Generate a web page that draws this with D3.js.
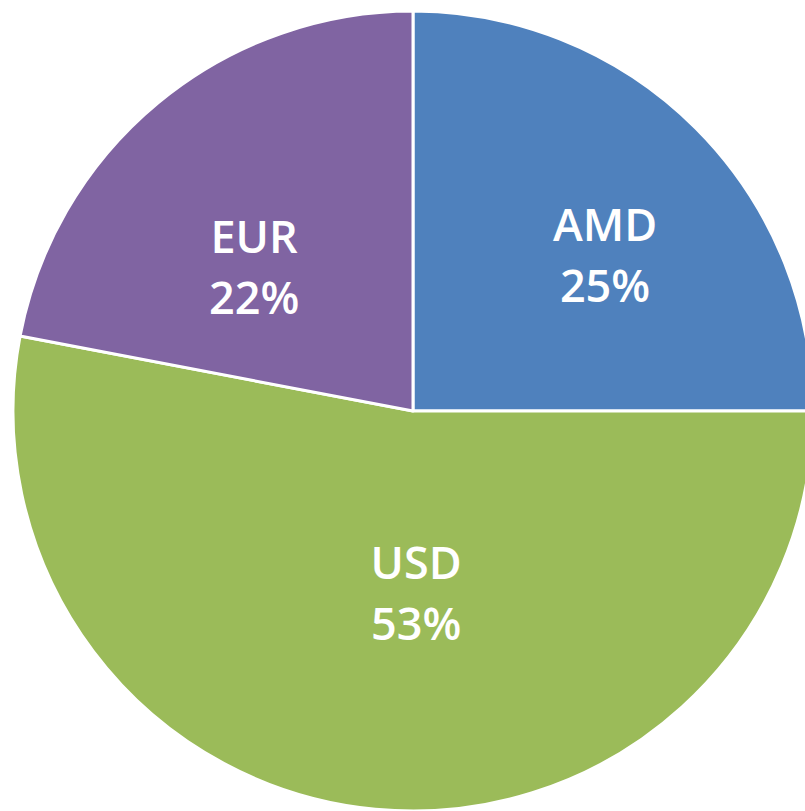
<!DOCTYPE html>
<html>
<head>
<meta charset="utf-8">
<script src="https://cdn.jsdelivr.net/npm/d3@7"></script>
<style>
  html, body { margin: 0; padding: 0; background: #fff; }
  svg { display: block; }
</style>
</head>
<body>
<div id="chart"></div>
<script>
// slice data, in drawing order (clockwise from 12 o'clock)
const currencies = ["AMD", "USD", "EUR"];
const shares = [25, 53, 22];
const sliceColors = ["#4f81bd", "#9bbb59", "#8064a2"];

const width = 805, height = 811;
const cx = 413, cy = 411, radius = 400;

// label nudges (px) from the arc centroid, to follow the original layout
const labelNudge = { AMD: [28, -6], USD: [25, -63], EUR: [-11, 21] };

const svg = d3.select("#chart")
  .append("svg")
  .attr("width", width)
  .attr("height", height);

const g = svg.append("g")
  .attr("transform", `translate(${cx},${cy})`);

const rows = currencies.map((c, i) => ({ name: c, value: shares[i], color: sliceColors[i] }));

const pie = d3.pie()
  .value(d => d.value)
  .sort(null);

const arc = d3.arc()
  .innerRadius(0)
  .outerRadius(radius);

const labelArc = d3.arc()
  .innerRadius(232)
  .outerRadius(232);

const slices = pie(rows);

g.selectAll("path.slice")
  .data(slices)
  .join("path")
  .attr("class", "slice")
  .attr("d", arc)
  .attr("fill", d => d.data.color)
  .attr("stroke", "#fff")
  .attr("stroke-width", 3)
  .attr("stroke-linejoin", "round");

const labels = g.selectAll("text.lbl")
  .data(slices)
  .join("text")
  .attr("class", "lbl")
  .attr("transform", d => {
    const c = labelArc.centroid(d);
    const n = labelNudge[d.data.name];
    return `translate(${c[0] + n[0]},${c[1] + n[1]})`;
  })
  .attr("text-anchor", "middle")
  .attr("fill", "#fff")
  .style("font-family", "'Open Sans', 'Noto Sans', sans-serif")
  .style("font-weight", "600")
  .style("font-size", "45px");

labels.append("tspan")
  .attr("x", 0)
  .attr("y", 0)
  .text(d => d.data.name);

labels.append("tspan")
  .attr("x", 0)
  .attr("y", 61)
  .text(d => d.data.value + "%");
</script>
</body>
</html>
